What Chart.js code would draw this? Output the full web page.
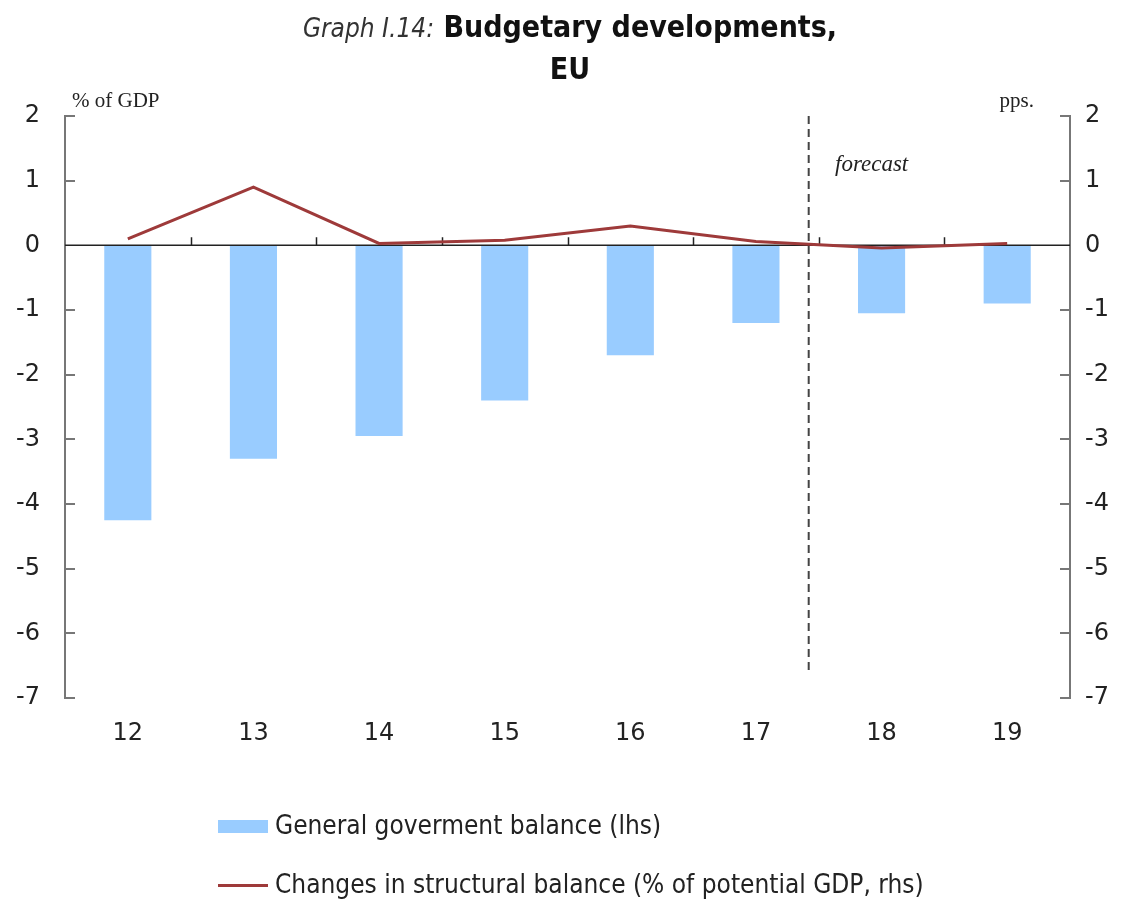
<!DOCTYPE html>
<html>
<head>
<meta charset="utf-8">
<script src="https://cdn.jsdelivr.net/npm/chart.js@4"></script>
<style>
  html, body { margin: 0; padding: 0; background: #fff; }
  #wrap { position: relative; width: 1126px; height: 901px; }
  #budgetChart { position: absolute; left: 0; top: 0; }
  .title {
    position: absolute; left: 0; width: 1140px; text-align: center;
    font-family: "DejaVu Sans Condensed", "DejaVu Sans", sans-serif;
    font-size: 30px; color: #111; font-weight: bold;
  }
  .title i { font-weight: normal; color: #333; font-size: 26px; }
  .legend {
    position: absolute; left: 218px;
    font-family: "DejaVu Sans Condensed", "DejaVu Sans", sans-serif;
    font-size: 26px; color: #222;
  }
  .legend .swatch { display: inline-block; vertical-align: middle; margin-right: 7px; }
</style>
</head>
<body>
<div id="wrap">
  <canvas id="budgetChart" width="1126" height="901"></canvas>
  <div class="title" style="top:9px;"><i>Graph I.14:</i> Budgetary developments,</div>
  <div class="title" style="top:51px;">EU</div>
  <div class="legend" style="top:810px;"><span class="swatch" style="width:50px;height:13px;background:#99ccff;"></span>General goverment balance (lhs)</div>
  <div class="legend" style="top:869px;"><span class="swatch" style="width:50px;height:3px;background:#9e3a3a;"></span>Changes in structural balance (% of potential GDP, rhs)</div>
</div>
<script>
// Données du graphique
const years = ['12', '13', '14', '15', '16', '17', '18', '19'];
const govBalance = [-4.25, -3.3, -2.95, -2.4, -1.7, -1.2, -1.05, -0.9];
const structChange = [0.1, 0.9, 0.03, 0.08, 0.3, 0.06, -0.04, 0.03];
const axisMin = -7;
const axisMax = 2;
const forecastAt = 5.42; // position (en index) de la séparation prévisions

const tickFont = { family: 'DejaVu Sans', size: 24 };

// Décor : ticks intérieurs, ligne du zéro, séparation "forecast", unités
const decor = {
  id: 'decor',
  beforeDatasetDraw(chart, args) {
    if (args.meta.type !== 'line') return;
    const { ctx, chartArea, scales } = chart;
    const x = scales.x, y = scales.y;
    const y0 = y.getPixelForValue(0);
    ctx.save();
    // ligne du zéro + petits ticks entre catégories
    ctx.strokeStyle = '#222';
    ctx.lineWidth = 1.5;
    ctx.beginPath();
    ctx.moveTo(chartArea.left, y0);
    ctx.lineTo(chartArea.right, y0);
    for (let i = 0; i < years.length - 1; i++) {
      const px = Math.round(x.getPixelForValue(i + 0.5)) + 0.5;
      ctx.moveTo(px, y0);
      ctx.lineTo(px, y0 - 8);
    }
    ctx.stroke();
    // ligne pointillée des prévisions
    const fx = x.getPixelForValue(forecastAt);
    ctx.strokeStyle = '#444';
    ctx.lineWidth = 2;
    ctx.setLineDash([8, 5]);
    ctx.beginPath();
    ctx.moveTo(fx, chartArea.top);
    ctx.lineTo(fx, y.getPixelForValue(-6.6));
    ctx.stroke();
    ctx.restore();
  },
  afterDraw(chart) {
    const { ctx, chartArea, scales } = chart;
    ctx.save();
    ctx.strokeStyle = '#777';
    ctx.lineWidth = 2;
    ctx.beginPath();
    for (let v = axisMin; v <= axisMax; v++) {
      if (v === 0) continue; // la ligne du zéro suffit
      const py = Math.round(scales.y.getPixelForValue(v));
      ctx.moveTo(chartArea.left, py);
      ctx.lineTo(chartArea.left + 10, py);
      const py2 = Math.round(scales.y2.getPixelForValue(v));
      ctx.moveTo(chartArea.right, py2);
      ctx.lineTo(chartArea.right - 10, py2);
    }
    ctx.stroke();
    // unités et mention "forecast"
    ctx.fillStyle = '#222';
    ctx.textBaseline = 'alphabetic';
    ctx.font = '21px "Liberation Serif"';
    ctx.textAlign = 'left';
    ctx.fillText('% of GDP', 72, 107);
    ctx.textAlign = 'right';
    ctx.fillText('pps.', 1034, 107);
    ctx.textAlign = 'left';
    ctx.font = 'italic 23px "Liberation Serif"';
    ctx.fillText('forecast', 835, 171);
    ctx.restore();
  }
};

new Chart(document.getElementById('budgetChart'), {
  type: 'bar',
  data: {
    labels: years,
    datasets: [{
      label: 'General goverment balance (lhs)',
      data: govBalance,
      backgroundColor: '#99ccff',
      borderWidth: 0,
      barPercentage: 0.375,
      categoryPercentage: 1,
      yAxisID: 'y',
      order: 1
    }, {
      type: 'line',
      label: 'Changes in structural balance (% of potential GDP, rhs)',
      data: structChange,
      borderColor: '#9e3a3a',
      borderWidth: 3,
      pointRadius: 0,
      tension: 0,
      yAxisID: 'y2',
      order: 0
    }]
  },
  options: {
    responsive: false,
    animation: false,
    layout: { padding: { top: 116, bottom: 143, left: 0, right: 0 } },
    scales: {
      x: {
        grid: { display: false, drawTicks: false },
        border: { display: false },
        ticks: { color: '#222', font: tickFont, padding: 21 },
        afterFit: s => { s.height = 60; }
      },
      y: {
        position: 'left',
        min: axisMin, max: axisMax,
        grid: { drawOnChartArea: false, drawTicks: false },
        border: { display: true, color: '#777', width: 2 },
        ticks: { stepSize: 1, color: '#222', font: tickFont, padding: 25 },
        afterFit: s => { s.width = 65; }
      },
      y2: {
        position: 'right',
        min: axisMin, max: axisMax,
        grid: { drawOnChartArea: false, drawTicks: false },
        border: { display: true, color: '#777', width: 2 },
        ticks: { stepSize: 1, color: '#222', font: tickFont, padding: 15 },
        afterFit: s => { s.width = 56; }
      }
    },
    plugins: {
      legend: { display: false }, // légende faite en HTML
      tooltip: { enabled: false }
    }
  },
  plugins: [decor]
});
</script>
</body>
</html>
